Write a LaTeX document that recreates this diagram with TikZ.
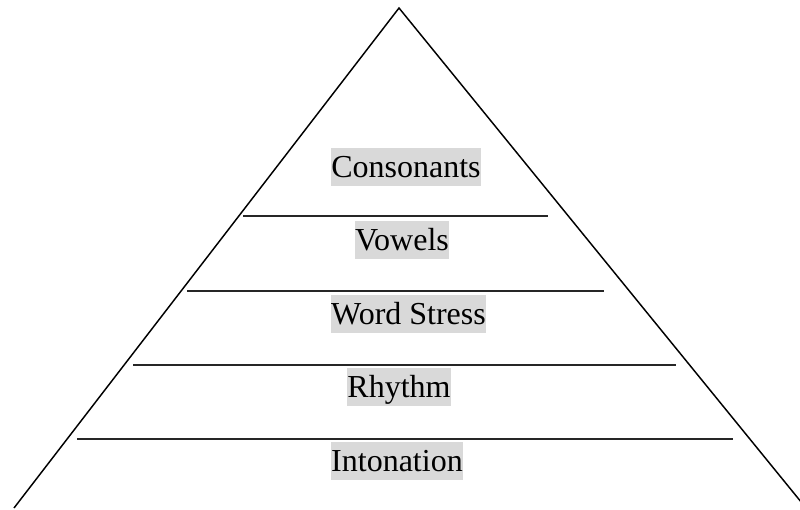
\documentclass[tikz,border=0pt]{standalone}
\usepackage{fontspec}
\setmainfont{Liberation Serif}
\tikzset{
  level/.style={fill=black!15, inner sep=0pt, anchor=base,
    text height=21.6pt, text depth=6.7pt,
    font=\fontsize{24}{28}\selectfont},
  divider/.style={line width=1pt, black!85}
}
\begin{document}
\begin{tikzpicture}[x=0.75pt, y=-0.75pt]
        \useasboundingbox (0,0) rectangle (800,510);
        \clip (0,0) rectangle (800,510);

        % Pyramid outline
        \coordinate (apex) at (399,8);
        \coordinate (left) at (14,508);
        \coordinate (right) at (806,508);
        \draw[line width=1.1pt] (left) -- (apex) -- (right);

        % Levels, top to bottom
        \node[level] (cons) at (406,177) {Consonants};
        \node[level] (vow) at (402,250) {Vowels};
        \node[level] (stress) at (408.5,324) {Word Stress};
        \node[level] (rhy) at (399,397) {Rhythm};
        \node[level] (inton) at (397,471) {Intonation};

        % Dividing lines
        \draw[divider] (243,216) -- (548,216);
        \draw[divider] (187,291) -- (604,291);
        \draw[divider] (133,365) -- (676,365);
        \draw[divider] (77,439) -- (733,439);
\end{tikzpicture}
\end{document}
